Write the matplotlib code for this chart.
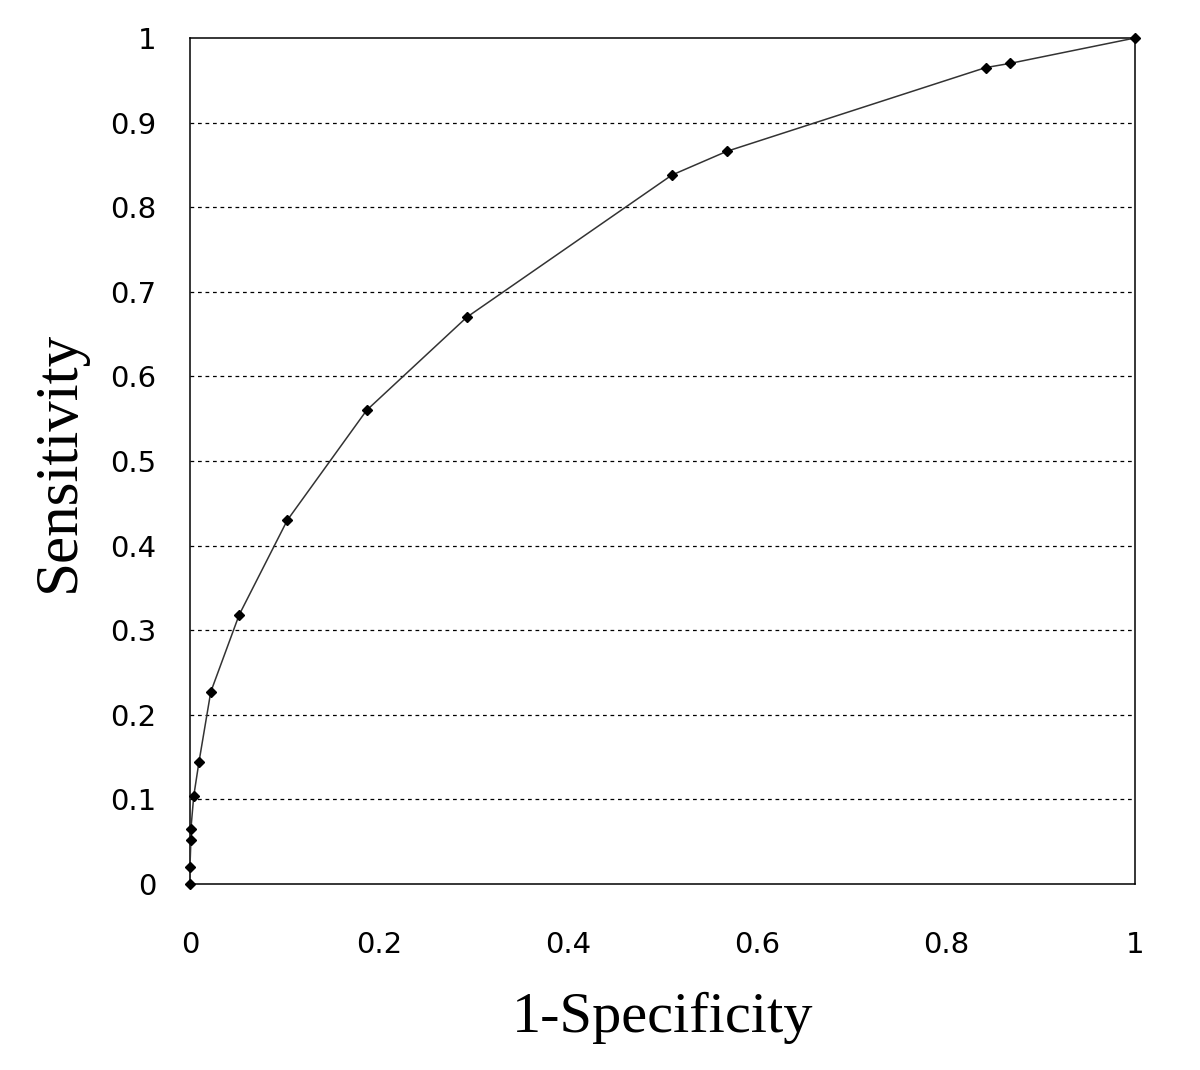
import matplotlib
matplotlib.use("Agg")
import matplotlib.pyplot as plt

# ROC points
fpr = [0.0, 0.0, 0.001, 0.001, 0.004, 0.0095, 0.022, 0.052, 0.103, 0.187,
       0.293, 0.51, 0.568, 0.842, 0.868, 1.0]
tpr = [0.0, 0.02, 0.052, 0.065, 0.104, 0.144, 0.227, 0.318, 0.430, 0.560,
       0.670, 0.838, 0.866, 0.965, 0.970, 1.0]

x_ticks = [0, 0.2, 0.4, 0.6, 0.8, 1]
x_tick_labels = ["0", "0.2", "0.4", "0.6", "0.8", "1"]
y_ticks = [0, 0.1, 0.2, 0.3, 0.4, 0.5, 0.6, 0.7, 0.8, 0.9, 1]
y_tick_labels = ["0", "0.1", "0.2", "0.3", "0.4", "0.5", "0.6", "0.7", "0.8", "0.9", "1"]

fig = plt.figure(figsize=(12, 10.7), dpi=100)
ax = fig.add_axes([0.1583, 0.1738, 0.7875, 0.7907])

for y in y_ticks[1:-1]:
    ax.axhline(y, color="black", linestyle=(0, (3, 3)), linewidth=0.9, zorder=1)

ax.plot(fpr, tpr, color="#333333", linewidth=1.1, marker="D", markersize=5,
        markerfacecolor="black", markeredgecolor="black", zorder=3, clip_on=False)

ax.set_xlim(0, 1)
ax.set_ylim(0, 1)
ax.set_xticks(x_ticks)
ax.set_xticklabels(x_tick_labels)
ax.set_yticks(y_ticks)
ax.set_yticklabels(y_tick_labels)
ax.tick_params(length=0, labelsize=21)
ax.tick_params(axis="y", pad=24)
ax.tick_params(axis="x", pad=34)
for sp in ax.spines.values():
    sp.set_color("black")
    sp.set_linewidth(1.1)

ax.set_xlabel("1-Specificity", fontfamily="Liberation Serif", fontsize=42)
ax.set_ylabel("Sensitivity", fontfamily="Liberation Serif", fontsize=44)
ax.xaxis.set_label_coords(0.5, -0.158)
ax.yaxis.set_label_coords(-0.138, 0.5)
ax.xaxis.label.set_va("center")
ax.yaxis.label.set_va("center")

fig.savefig("out.png", dpi=100, facecolor="white")
